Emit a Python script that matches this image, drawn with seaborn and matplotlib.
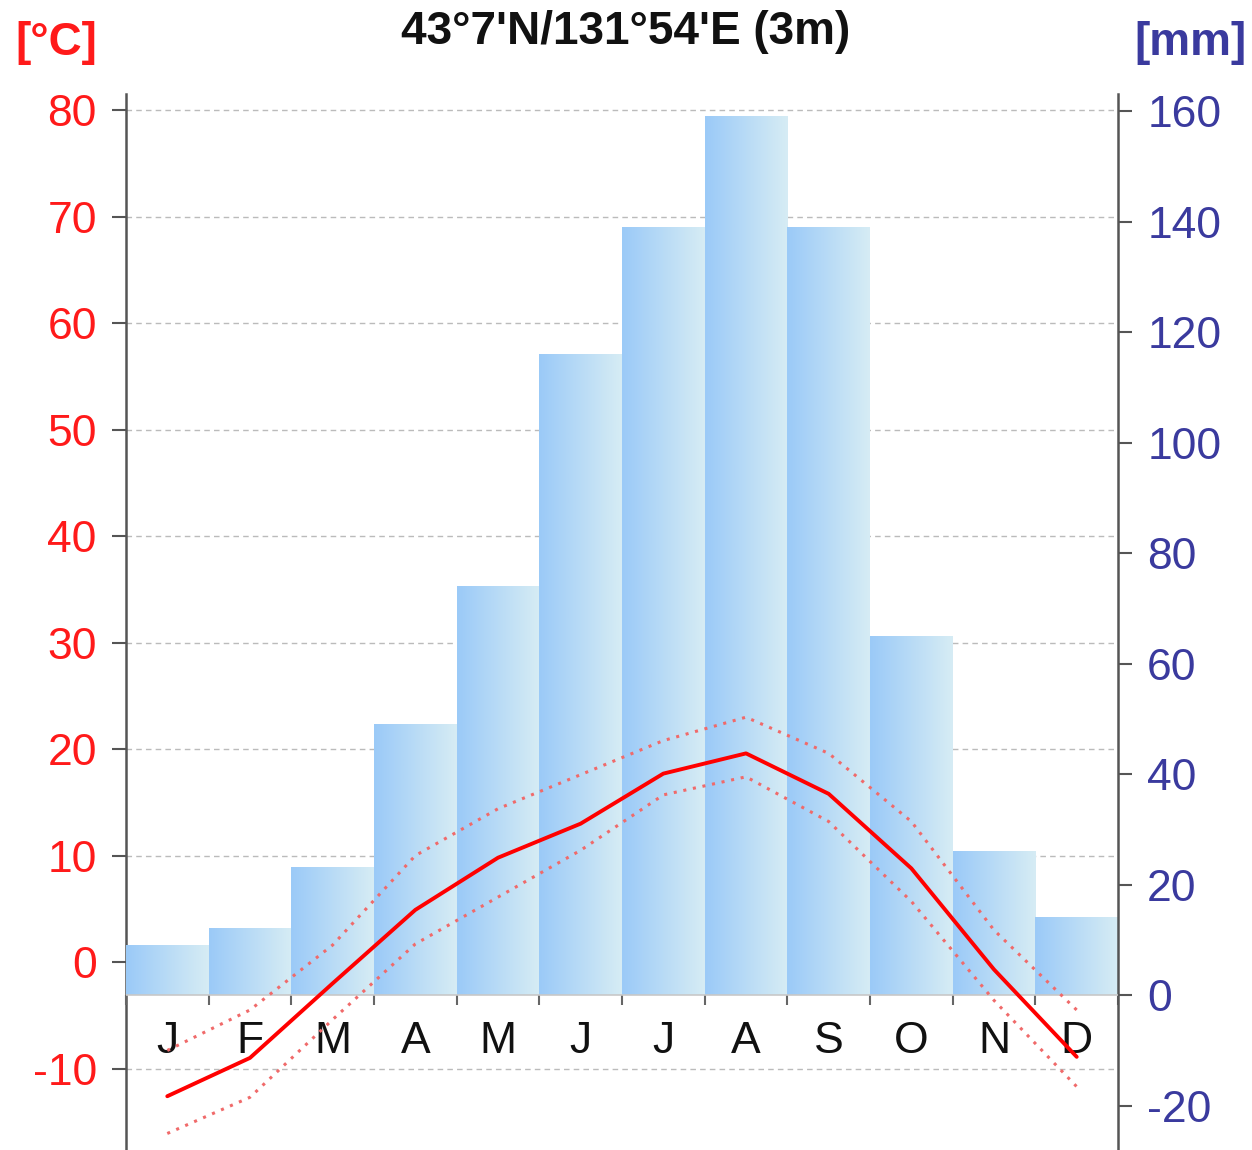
import numpy as np
import matplotlib
matplotlib.use("Agg")
import matplotlib.pyplot as plt
import seaborn as sns
import pandas as pd

# climate data
months = ["Jan", "Feb", "Mar", "Apr", "May", "Jun", "Jul", "Aug", "Sep", "Oct", "Nov", "Dec"]
month_letters = ["J", "F", "M", "A", "M", "J", "J", "A", "S", "O", "N", "D"]
precip_mm = [9, 12, 23, 49, 74, 116, 139, 159, 139, 65, 26, 14]
temp_mean = [-12.6, -9.0, -2.0, 4.9, 9.8, 13.0, 17.7, 19.6, 15.8, 8.8, -0.7, -8.9]
temp_max = [-8.3, -4.5, 1.6, 10.0, 14.4, 17.6, 20.8, 23.0, 19.6, 13.2, 3.0, -4.5]
temp_min = [-16.1, -12.7, -5.4, 1.7, 6.1, 10.5, 15.7, 17.4, 13.2, 5.7, -3.6, -11.7]
temp_ticks = [-10, 0, 10, 20, 30, 40, 50, 60, 70, 80]
precip_ticks = [-20, 0, 20, 40, 60, 80, 100, 120, 140, 160]

df = pd.DataFrame({"month": months, "precip": precip_mm, "tmean": temp_mean,
                   "tmax": temp_max, "tmin": temp_min})
df["pos"] = range(len(months))

sns.set_style("white")
plt.rcParams["font.family"] = ["Liberation Sans", "DejaVu Sans"]
plt.rcParams["axes.unicode_minus"] = False

RED = "#ff1a1a"
BLUE = "#3a3a9e"
AXC = "#555555"
FS = 32

fig = plt.figure(figsize=(12.52, 11.5), dpi=100)
ax = fig.add_axes([0.1006, 0.0, 0.7924, 0.918])
ax2 = ax.twinx()
ax3 = ax.twinx()

t_lim = (-17.65, 81.5)
p_lim = (-28.05, 163.1)

# temperature axis (left) with grid
ax.set_ylim(*t_lim)
ax.set_xlim(-0.5, 11.5)
ax.set_yticks(temp_ticks)
ax.yaxis.grid(True, color="#bbbbbb", linestyle=(0, (4, 3)), linewidth=1)
ax.xaxis.grid(False)
ax.tick_params(axis="y", colors=AXC, labelcolor=RED, labelsize=FS, length=10, width=1.5,
               pad=11, direction="out", left=True)
for s in ["top", "bottom", "right"]:
    ax.spines[s].set_visible(False)
ax.spines["left"].set_color(AXC)
ax.spines["left"].set_linewidth(1.8)

# precipitation bars
sns.barplot(data=df, x="pos", y="precip", order=list(range(12)), width=1.0,
            native_scale=True, ax=ax2, color="#a0cdf8", saturation=1, linewidth=0)
grad = np.linspace(0, 1, 64).reshape(1, -1)
cmap = matplotlib.colors.LinearSegmentedColormap.from_list("bar", ["#9bcaf8", "#d6ecf4"])
for p in list(ax2.patches):
    x0, w, h = p.get_x(), p.get_width(), p.get_height()
    ax2.imshow(grad, extent=(x0, x0 + w, 0, h), aspect="auto", cmap=cmap,
               interpolation="bicubic", zorder=2)
    p.set_visible(False)
ax2.set_xlim(-0.5, 11.5)
ax2.set_ylim(*p_lim)
ax2.axhline(0, color="#c8c8c8", linewidth=1.2, zorder=3)
ax2.set_yticks(precip_ticks)
ax2.tick_params(axis="y", colors=AXC, labelcolor=BLUE, labelsize=FS, length=10, width=1.5,
                pad=11, direction="out", right=True)
for s in ["top", "left"]:
    ax2.spines[s].set_visible(False)
ax2.spines["right"].set_color(AXC)
ax2.spines["right"].set_linewidth(1.8)

# month ticks on the 0 mm line
ax2.xaxis.set_visible(True)
ax2.spines["bottom"].set_position(("data", 0))
ax2.spines["bottom"].set_visible(False)
ax2.set_xticks(np.arange(-0.5, 12, 1))
ax2.set_xticklabels([])
ax2.set_xticks(np.arange(12), minor=True)
ax2.set_xticklabels(month_letters, minor=True)
ax2.tick_params(axis="x", which="major", colors="#666666", length=7, width=1.5,
                direction="out", bottom=True, labelbottom=False)
ax2.tick_params(axis="x", which="minor", length=0, pad=19, labelsize=FS,
                labelcolor="#111111", bottom=True, labelbottom=True)
ax2.set_xlabel("")
ax2.set_ylabel("")
ax.tick_params(axis="x", which="both", bottom=False, labelbottom=False)

# temperature lines
sns.lineplot(data=df, x="pos", y="tmean", ax=ax3, color="#ff0000", linewidth=2.8)
sns.lineplot(data=df, x="pos", y="tmax", ax=ax3, color="#f06a6a", linewidth=2.2,
             linestyle=(0, (1, 2.2)))
sns.lineplot(data=df, x="pos", y="tmin", ax=ax3, color="#f06a6a", linewidth=2.2,
             linestyle=(0, (1, 2.2)))
ax3.set_ylim(*t_lim)
ax3.set_xlim(-0.5, 11.5)
ax3.set_axis_off()

fig.text(0.5, 0.972, "43°7'N/131°54'E (3m)", ha="center", va="center",
         fontsize=33, fontweight="bold", color="#111111")
fig.text(0.045, 0.963, "[°C]", ha="center", va="center", fontsize=33,
         fontweight="bold", color=RED)
fig.text(0.951, 0.963, "[mm]", ha="center", va="center", fontsize=33,
         fontweight="bold", color=BLUE)

fig.savefig("out.png", dpi=100)
